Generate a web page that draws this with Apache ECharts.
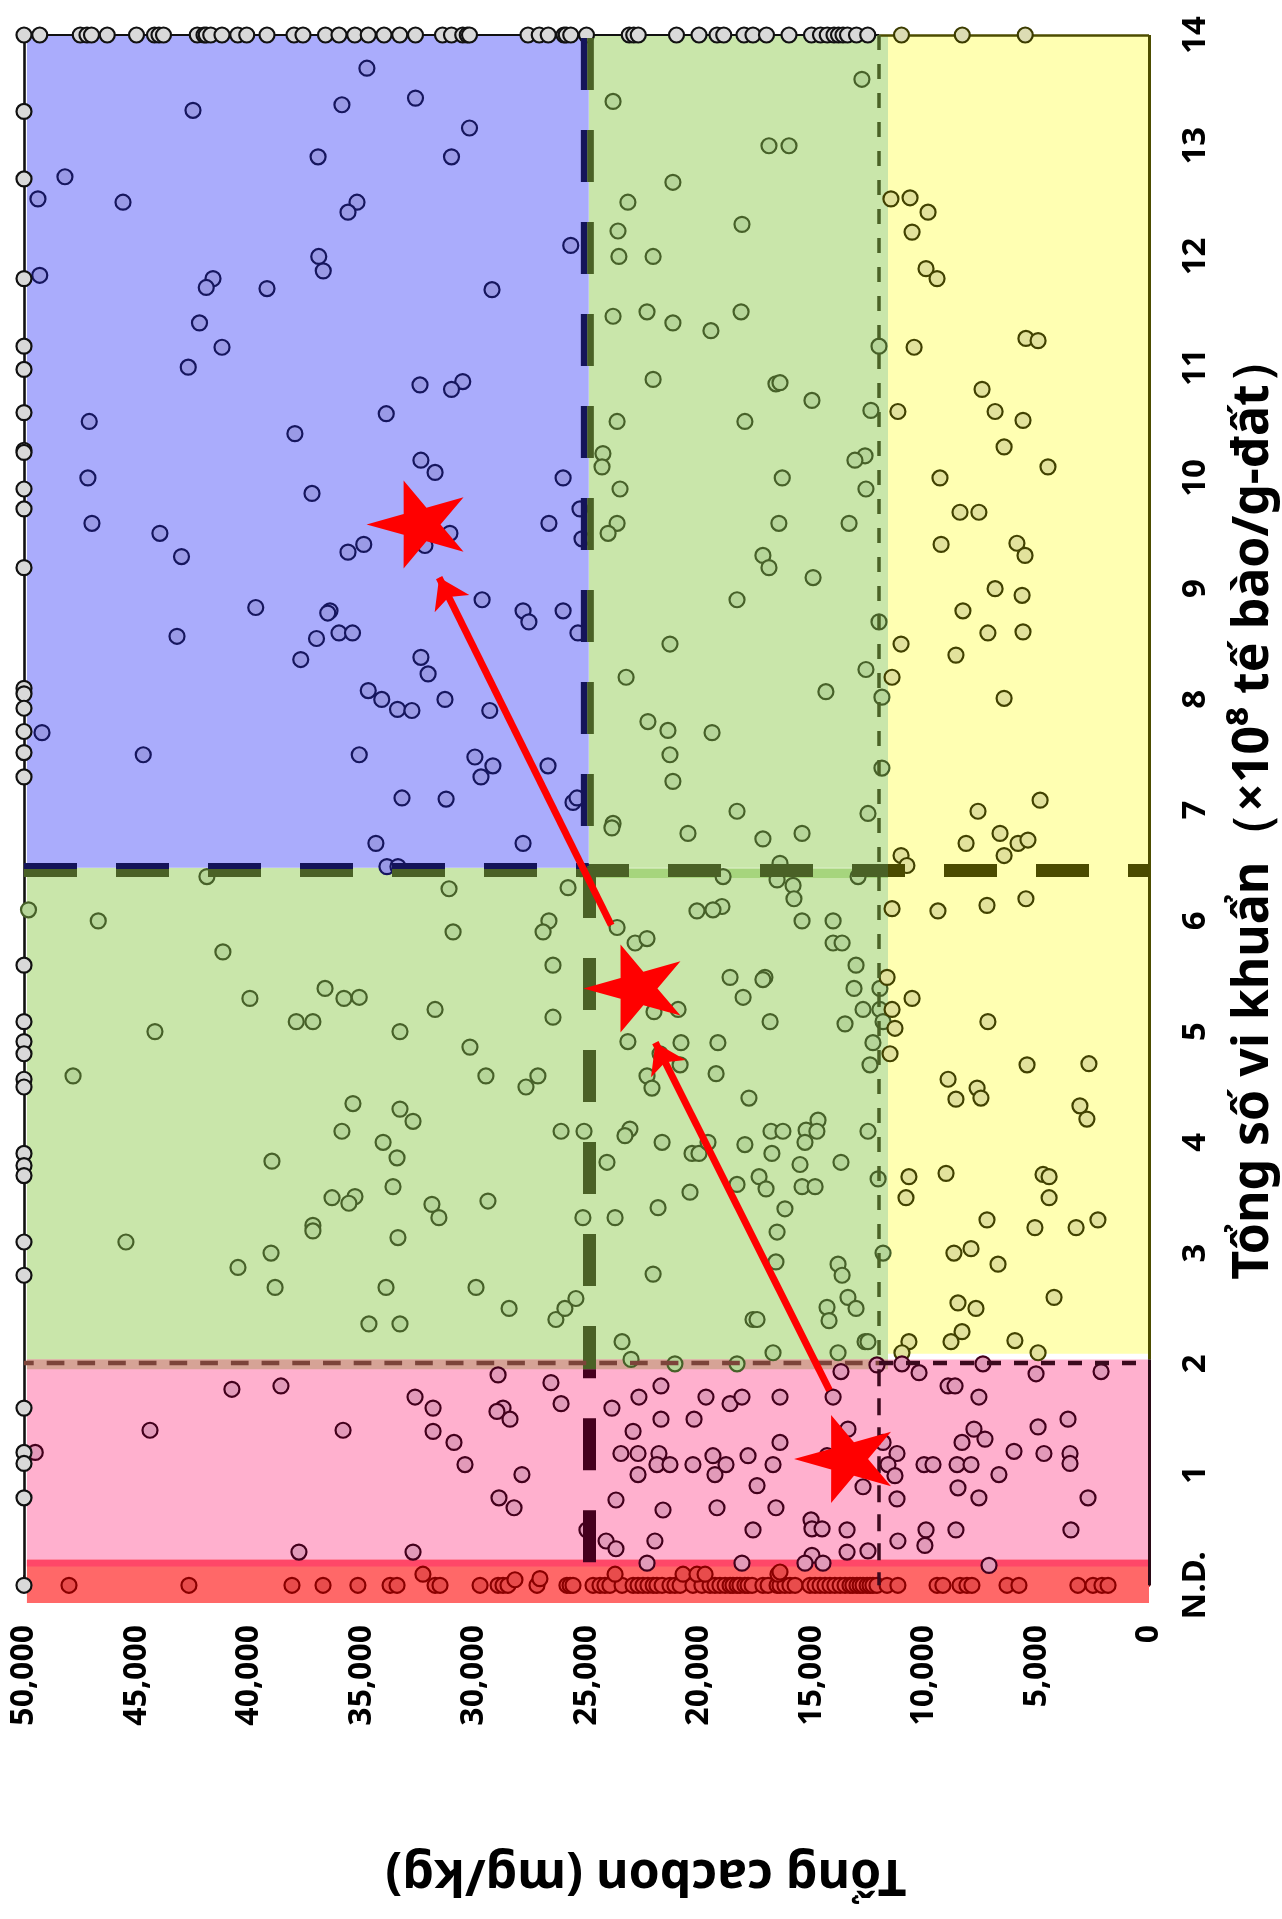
<!DOCTYPE html>
<html><head><meta charset="utf-8">
<script src="https://cdn.jsdelivr.net/npm/echarts@6/dist/echarts.min.js"></script>
<style>html,body{margin:0;padding:0;background:#fff}#c{width:1282px;height:1919px}</style>
</head><body><div id="c"></div>
<script>
// ---------- DATA ----------
const xTitle = 'Tổng cacbon (mg/kg)';
const yTitle = 'Tổng số vi khuẩn（×10⁸ tế bào/g-đất）';
const carbonTicks = [0,5000,10000,15000,20000,25000,30000,35000,40000,45000,50000];
const bactTicks = [0,1,2,3,4,5,6,7,8,9,10,11,12,13,14];
const bactTickText = ['N.D.','1','2','3','4','5','6','7','8','9','10','11','12','13','14'];
const ND_VALUE = 0;          // "not detected" bacteria
const BACT_CAP = 14;         // points at or above 14 drawn on top edge
const CARBON_CAP = 50000;    // points at or above 50,000 drawn on left edge

// points clipped at bacteria cap (carbon, mg/kg)
const topEdgeCarbon = [49300,47500,47200,47000,46300,45000,44200,44000,43800,42300,42000,41900,41700,41200,40500,40100,39200,38000,37600,36600,36000,35300,34700,34000,33300,32600,31400,31000,30500,30300,30200,27600,27100,26700,26000,25900,25700,25000,23100,22900,22700,21000,20000,19200,18900,18000,17600,17000,16000,15000,14600,14300,14000,13800,13600,13400,13000,12500,11000,8300,5500];
// points clipped at carbon cap (bacteria)
const leftEdgeBact = [14,13.31,12.70,11.80,11.19,10.98,10.59,10.25,10.23,9.90,9.72,9.19,8.10,8.05,7.92,7.71,7.52,7.30,5.60,5.09,4.91,4.80,4.57,4.50,3.90,3.79,3.70,3.10,2.80,1.60,1.20,1.10,0.79,0];

const bluePts = [[34760,13.70],[42490,13.32],[35870,13.37],[36930,12.90],[48180,12.72],[49380,12.52],[45600,12.49],[35200,12.49],[35600,12.40],[49300,11.83],[36900,12.00],[36700,11.87],[41600,11.80],[41900,11.72],[39200,11.71],[42200,11.40],[41200,11.18],[42700,11.00],[33900,10.58],[47100,10.51],[32600,13.43],[30200,13.16],[31000,12.90],[25700,12.10],[29200,11.70],[32400,10.84],[30500,10.87],[31000,10.80],[37960,10.40],[47160,10.00],[37200,9.86],[46980,9.59],[43960,9.50],[43000,9.29],[34900,9.40],[35600,9.33],[39700,8.83],[36400,8.80],[36500,8.78],[43200,8.57],[37000,8.55],[36000,8.60],[35400,8.60],[37700,8.36],[34700,8.08],[34100,8.00],[33400,7.91],[49200,7.70],[44700,7.50],[35100,7.50],[33200,7.11],[32360,10.16],[31730,10.05],[26040,10.00],[25290,9.72],[26670,9.59],[31070,9.50],[32180,9.39],[25200,9.45],[29640,8.90],[27820,8.80],[27560,8.70],[26040,8.80],[25380,8.60],[32360,8.38],[32040,8.23],[31290,8.00],[32760,7.90],[29300,7.90],[29960,7.48],[29160,7.40],[29690,7.30],[26710,7.40],[31240,7.10],[25600,7.07],[25420,7.11],[34360,6.70],[33870,6.49],[33380,6.49],[27820,6.70]];

const greenPts = [[23820,13.40],[16890,13.00],[21160,12.67],[23160,12.49],[18090,12.29],[23600,12.23],[23560,12.00],[22040,12.00],[23820,11.46],[22310,11.50],[21160,11.40],[19470,11.33],[18130,11.50],[22040,10.89],[16580,10.85],[23640,10.51],[17960,10.51],
[12760,13.60],[16000,13.00],[12000,11.19],[16400,10.86],[14980,10.70],[12360,10.61],
[24270,10.22],[24310,10.10],[23510,9.90],[16300,10.00],[23640,9.59],[24040,9.50],[16450,9.59],[17160,9.30],[16890,9.19],[18310,8.90],[21290,8.50],[23240,8.20],[22270,7.80],[21380,7.72],[19420,7.70],[21290,7.50],[21160,7.26],[18310,6.99],[23820,6.88],
[12620,10.20],[13070,10.16],[12580,9.90],[13330,9.59],[14930,9.10],[12000,8.70],[12580,8.27],[14360,8.07],[11870,8.02],[11870,7.38],[12490,6.97],
[41870,6.40],[49800,6.10],[46700,6.00],[41160,5.72],[39960,5.30],[36620,5.39],[35780,5.30],[35100,5.31],[37900,5.09],[37160,5.09],[44180,5.00],[33290,5.00],[47820,4.60],[35380,4.35],[33290,4.30],[35870,4.10],[34040,4.00],[38980,3.83],[33420,3.86],[33600,3.60],[36310,3.50],[35290,3.51],[35560,3.45],[37160,3.25],
[23870,6.84],[20490,6.79],[17160,6.74],[31110,6.29],[25820,6.30],[18930,6.40],[16530,6.37],[18980,6.13],[19380,6.10],[20090,6.09],[26670,6.00],[26930,5.90],[30930,5.90],[23640,5.94],[22840,5.80],[22310,5.84],[26490,5.60],[18620,5.49],[17070,5.49],[17160,5.47],[18040,5.31],[31730,5.20],[26490,5.13],[22000,5.18],[20930,5.20],[16840,5.09],[23160,4.91],[20800,4.90],[19160,4.90],[30180,4.86],[21730,4.80],[20840,4.70],[19240,4.62],[29470,4.60],[27160,4.60],[27690,4.50],[22310,4.60],[22090,4.49],[17780,4.40],[32710,4.19],[26130,4.10],[25110,4.10],[23070,4.12],[23290,4.06],[21640,4.00],[16800,4.10],[24090,3.82],[20310,3.90],[20000,3.90],[19600,4.00],[17960,3.98],[16760,3.90],[18310,3.62],[17330,3.69],[17020,3.58],[20400,3.55],[31870,3.44],[29380,3.47],[21820,3.41],[31560,3.32],[25160,3.32],[23730,3.32],
[15420,6.79],[16400,6.52],[15820,6.32],[15780,6.20],[12930,6.40],[15420,6.00],[14040,6.00],[14040,5.80],[13640,5.80],[13020,5.60],[13110,5.39],[11960,5.39],[12710,5.20],[11960,5.20],[13510,5.07],[11820,5.09],[12270,4.90],[12400,4.70],[14710,4.20],[16270,4.10],[15240,4.11],[14760,4.10],[15290,4.00],[12490,4.10],[15510,3.80],[13690,3.82],[15420,3.60],[14840,3.60],[12040,3.67],[16180,3.40],
[45470,3.10],[40490,2.87],[39020,3.00],[38840,2.69],[37160,3.20],[33910,2.69],[34670,2.36],[33380,3.14],[33290,2.36],
[29910,2.69],[28440,2.50],[26360,2.40],[25960,2.50],[25470,2.59],[22040,2.81],[23420,2.20],[23020,2.04],[17600,2.40],[17420,2.40],[16580,2.92],[16710,2.10],[21070,2.00],[18310,2.00],[16530,3.19],
[13820,2.90],[13640,2.80],[13380,2.60],[13020,2.50],[14310,2.51],[14220,2.39],[12620,2.20],[12490,2.20],[13820,2.10],[11820,3.00]];

const yellowPts = [[11470,12.52],[10620,12.53],[9820,12.40],[10530,12.22],[9910,11.89],[9420,11.80],[10440,11.18],[5470,11.26],[4930,11.24],[7420,10.80],[6840,10.60],[5600,10.52],[11160,10.60],
[6440,10.28],[4490,10.10],[9290,10.00],[8400,9.69],[7560,9.69],[9240,9.40],[5870,9.41],[5510,9.30],[6840,9.00],[5640,8.94],[8270,8.80],[7160,8.60],[5600,8.61],[11020,8.50],[8580,8.40],[11420,8.20],[6440,8.01],[4840,7.09],[7600,6.99],
[6620,6.79],[8130,6.70],[5820,6.70],[5380,6.73],[6440,6.59],[11020,6.59],[10760,6.50],[11420,6.11],[9380,6.09],[7200,6.14],[5470,6.20],[11640,5.49],[11420,5.20],[10530,5.30],[11290,5.03],[7160,5.09],[11510,4.80],[5420,4.70],[2670,4.71],[8930,4.57],[7640,4.49],[8580,4.39],[7470,4.40],[3070,4.33],[2760,4.21],[10670,3.69],[9020,3.72],[4710,3.71],[4440,3.69],[10800,3.50],[4440,3.50],[7200,3.30],[2270,3.30],[5070,3.23],[3240,3.23],
[8670,3.00],[7910,3.04],[6710,2.90],[4220,2.60],[8490,2.55],[7690,2.50],[8310,2.29],[8800,2.20],[10670,2.20],[10980,2.10],[5960,2.21],[4930,2.10]];

const pinkPts = [[40760,1.77],[38580,1.80],[44400,1.40],[35820,1.40],[37780,0.30],[49500,1.20],
[28930,1.90],[26580,1.83],[32620,1.70],[31820,1.60],[28710,1.60],[28980,1.57],[28400,1.50],[26130,1.64],[31820,1.39],[30890,1.29],[30400,1.09],[27870,1.00],[28890,0.79],[28220,0.70],[32710,0.30],[24980,0.50],[23870,1.60],[22670,1.70],[21690,1.80],[22930,1.39],[21690,1.50],[23470,1.19],[22710,1.19],[21780,1.19],[21870,1.09],[21290,1.09],[22710,1.00],[23690,0.77],[24130,0.40],[23690,0.33],[21960,0.40],[22310,0.20],[21600,0.68],[20220,1.50],[19690,1.70],[18620,1.64],[18090,1.70],[20270,1.09],[19380,1.17],[19290,1.00],[18800,1.09],[17820,1.17],[17420,0.90],[16710,1.09],[19200,0.70],[17600,0.50],[16580,0.70],[18090,0.20],[16400,1.70],[16400,1.29],
[13690,1.93],[14040,1.70],[13380,1.41],[14310,1.17],[11820,1.29],[11200,1.19],[11600,1.09],[11290,0.99],[12710,0.89],[11200,0.78],[15020,0.59],[14980,0.51],[14530,0.51],[13420,0.50],[14980,0.27],[13420,0.30],[12490,0.31],[14490,0.20],[15290,0.20],[11160,0.40],[10980,2.00],[10220,1.92],[8930,1.80],[8620,1.80],[7560,1.70],[7380,2.00],[5020,1.91],[2130,1.93],[7780,1.41],[8310,1.29],[7290,1.32],[10000,1.09],[9600,1.09],[8530,1.09],[7910,1.09],[6670,1.00],[6000,1.21],[4930,1.43],[4670,1.19],[3600,1.50],[3510,1.19],[3510,1.10],[8490,0.88],[7560,0.79],[2710,0.79],[9910,0.50],[9960,0.36],[8580,0.50],[3470,0.50],[7110,0.18],[12090,1.99]];

// bacteria not detected (carbon, mg/kg)
const ndCarbon = [48000,42670,38090,36710,35160,33730,33420,31730,31510,29730,28930,28710,28490,27200,25870,25730,25600,24710,24400,24180,23960,23420,22930,22710,22490,22270,22040,21870,21640,21290,21070,20840,20270,19870,19510,19290,19070,18840,18620,18490,18310,18180,17960,17820,17640,17160,16930,16530,16400,16180,15960,15730,15070,14840,14620,14400,14180,13960,13730,13510,13290,13160,12980,12840,12710,12530,12400,12270,12090,11640,11160,9420,9160,8400,8090,7870,6310,5780,3160,2490,2090,1820];
const ndJitter = [[32270,0.10],[28180,0.05],[27070,0.06],[23730,0.10],[20710,0.10],[20090,0.10],[19730,0.10],[16490,0.10],[16400,0.12]];

// group means (stars) and arrows between them
const starPts = [[13620,1.14],[22980,5.39],[32620,9.58]];
const arrowFrom = [[14200,1.76],[23900,5.96]];
const arrowTo = [[21940,4.90],[31550,9.10]];

// thresholds
const carbonHigh = 25000, carbonLow = 12000, bactHigh = 6.5, bactLow = 2;

// ---------- CHART ----------
const FONT = '"Noto Sans", "DejaVu Sans", sans-serif';
const chart = echarts.init(document.getElementById('c'), null, {renderer: 'canvas'});

function area(x1, y1, x2, y2, color) {
  return [{coord: [x1, y1], itemStyle: {color: color, opacity: 1}}, {coord: [x2, y2]}];
}
function seg(x1, y1, x2, y2, color, width, type, offset) {
  const ls = {color: color, width: width, type: type || 'solid', opacity: 1};
  if (offset) ls.dashOffset = offset;
  return [{coord: [x1, y1], lineStyle: ls}, {coord: [x2, y2]}];
}
function pts(name, data, fill, stroke, z) {
  return {type: 'scatter', name: name, data: data, z: z || 3, symbol: 'circle', symbolSize: 15, silent: true,
    itemStyle: {color: fill, borderColor: stroke, borderWidth: 2.2, opacity: 1}};
}

const topGray = topEdgeCarbon.filter(c => c > carbonLow).map(c => [c, BACT_CAP]);
const topOlive = topEdgeCarbon.filter(c => c <= carbonLow).map(c => [c, BACT_CAP]);
const leftGray = leftEdgeBact.map(b => [CARBON_CAP, b]);
const ndPts = ndCarbon.map(c => [c, ND_VALUE]).concat(ndJitter);

const areas = [
  area(0, 2.09, 11600, 14, '#ffffb2'),
  area(11600, 1.95, 49870, 6.48, '#c9e6aa'),
  area(11600, 6.48, 24900, 14, '#c9e6aa'),
  area(24900, 6.48, 49870, 14, '#aaacfc'),
  area(0, 0.17, 49870, 2.04, '#ffb0ce'),
  area(11600, 1.95, 49870, 2.04, '#d6a396'),
  area(0, -0.16, 49870, 0.23, '#ff6868'),
  area(0, 0.17, 49870, 0.23, '#ff4768')
];

const baseLines = [
  seg(CARBON_CAP, BACT_CAP, carbonLow, BACT_CAP, '#111111', 2.2),
  seg(carbonLow, BACT_CAP, 0, BACT_CAP, '#4d4d00', 2.5),
  seg(CARBON_CAP, BACT_CAP, CARBON_CAP, -0.07, '#111111', 2.6),
  seg(0, BACT_CAP, 0, 2.04, '#4d4d00', 3),
  seg(0, 2.04, 0, 0, '#2a0a16', 3),
  seg(25300, 6.43, 11600, 6.43, '#a6d57d', 9)
];

const dashLines = [
  seg(CARBON_CAP, 6.455, 11600, 6.455, '#4a6126', 13, [53, 39]),
  seg(CARBON_CAP, 6.50, 24900, 6.50, '#14145a', 6, [53, 39]),
  seg(11600, 6.455, 0, 6.455, '#4b4b00', 13, [53, 39], 36),
  seg(25130, BACT_CAP, 25130, 6.48, '#14145a', 6.3, [52, 40], 89),
  seg(24830, BACT_CAP, 24830, 6.48, '#4a6126', 6.7, [52, 40], 89),
  seg(24870, 6.48, 24870, 1.95, '#4a6126', 13, [52, 40], 1.7),
  seg(24870, 1.95, 24870, 0.2, '#45001e', 13, [52, 40], 43),
  seg(carbonLow, BACT_CAP, carbonLow, 1.95, '#4a6126', 3.5, [15, 14]),
  seg(carbonLow, 1.95, carbonLow, 0, '#3c0a1e', 3.5, [17, 12]),
  seg(CARBON_CAP, 2.01, carbonLow, 2.01, '#7c443a', 4.3, [17.7, 13], 8),
  seg(carbonLow, 2.01, 0, 2.01, '#3c0a1e', 4.3, [14, 13])
];

const arrows = arrowFrom.map((f, i) => [{coord: f}, {coord: arrowTo[i]}]);

const STAR = 'path://M0,50L34.63,38.83L34.55,2.45L55.87,31.93L90.45,20.61L69,50L90.45,79.39L55.87,68.07L34.55,97.55L34.63,61.17Z';

const option = {
  animation: false,
  backgroundColor: '#ffffff',
  grid: {left: 24, right: 133, top: 35, bottom: 316, containLabel: false, outerBoundsMode: 'none'},
  xAxis: {
    type: 'value', min: 0, max: 50000, interval: 5000, inverse: true,
    axisLine: {show: true, onZero: true, lineStyle: {color: '#8b0000', width: 2.5}},
    axisTick: {show: true, inside: true, length: 10, lineStyle: {color: '#8b0000', width: 2}},
    minorTick: {show: true, splitNumber: 5, length: 7, lineStyle: {color: '#8b0000', width: 2}},
    axisLabel: {rotate: 90, margin: 22, color: '#000', fontSize: 32, fontWeight: 'bold', fontFamily: FONT,
      customValues: carbonTicks,
      formatter: v => Number(v).toLocaleString('en-US')},
    splitLine: {show: false}, minorSplitLine: {show: false}
  },
  yAxis: {
    type: 'value', position: 'right', min: -0.16, max: 14,
    axisLine: {show: false, onZero: false},
    axisTick: {show: true, inside: true, length: 10, customValues: bactTicks.slice(1, 14),
      lineStyle: {color: '#4d4d00', width: 2.5}},
    axisLabel: {rotate: 90, margin: 30, color: '#000', fontSize: 33, fontWeight: 'bold', fontFamily: FONT,
      customValues: bactTicks,
      formatter: v => bactTickText[bactTicks.indexOf(Math.round(v))]},
    splitLine: {show: false}
  },
  series: [
    {type: 'scatter', data: [], z: 1, silent: true,
      markArea: {silent: true, z: 1, data: areas}},
    {type: 'scatter', data: [], z: 2, silent: true,
      markLine: {silent: true, z: 2, symbol: 'none', label: {show: false}, animation: false, data: baseLines}},
    pts('blue', bluePts, '#9a9ae6', '#16165e'),
    pts('green', greenPts, '#b6d699', '#476129'),
    pts('yellow', yellowPts, '#e2e29c', '#424200'),
    pts('pink', pinkPts, '#e29ab9', '#43001c'),
    pts('nd', ndPts, '#e84c4c', '#8a0000'),
    pts('edgeGray', topGray.concat(leftGray), '#d9d9d9', '#111111'),
    pts('edgeOlive', topOlive, '#dcdcb4', '#3c3c00'),
    {type: 'scatter', data: [], z: 4, silent: true,
      markLine: {silent: true, z: 4, symbol: 'none', label: {show: false}, animation: false, data: dashLines}},
    {type: 'scatter', data: [], z: 5, silent: true,
      markLine: {silent: true, z: 5, symbol: ['none', 'arrow'], symbolSize: 29, label: {show: false},
        animation: false, lineStyle: {color: '#ff0000', width: 7, type: 'solid', opacity: 1},
        itemStyle: {color: '#ff0000'}, data: arrows}},
    {type: 'scatter', name: 'mean', data: starPts, z: 6, silent: true, symbol: STAR, symbolSize: [97, 88],
      itemStyle: {color: '#ff0000', opacity: 1}}
  ],
  graphic: [
    {type: 'text', x: 646, y: 1874, rotation: Math.PI, z: 10,
      style: {text: xTitle, fill: '#000', fontSize: 50, fontWeight: 'bold', fontFamily: FONT, align: 'center', verticalAlign: 'middle'}},
    {type: 'text', x: 1254, y: 807, rotation: Math.PI / 2, z: 10,
      style: {text: yTitle, fill: '#000', fontSize: 50, fontWeight: 'bold', fontFamily: FONT, align: 'center', verticalAlign: 'middle'}}
  ]
};
chart.setOption(option);
</script></body></html>
